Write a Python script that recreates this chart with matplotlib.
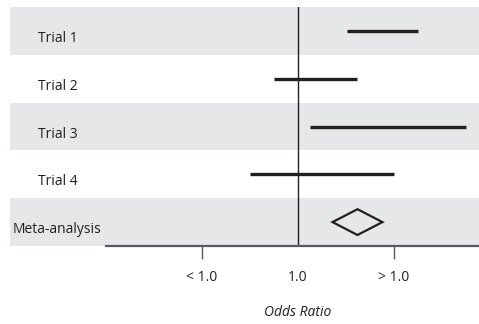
import matplotlib
matplotlib.use("Agg")
import matplotlib.pyplot as plt
import matplotlib.transforms as mtransforms

plt.rcParams['font.family'] = ['Open Sans', 'DejaVu Sans']

# Data
studies = ["Trial 1", "Trial 2", "Trial 3", "Trial 4"]
ci_low = [1.255, 0.875, 1.065, 0.75]
ci_high = [1.625, 1.31, 1.875, 1.50]
meta_label = "Meta-analysis"
meta_low, meta_est, meta_high = 1.18, 1.31, 1.44
tick_values = [0.5, 1.0, 1.5]
tick_labels = ["< 1.0", "1.0", "> 1.0"]
null_value = 1.0
xlabel = "Odds Ratio"

W, H = 479, 324
fig = plt.figure(figsize=(W / 100, H / 100), dpi=100)
ax = fig.add_axes([10 / W, 78 / H, 469 / W, 239 / H])

xmin, xmax = -0.5, 1.943
ax.set_xlim(xmin, xmax)
n_rows = len(studies) + 1
ax.set_ylim(n_rows, 0)

band = "#e6e7e8"
for i in range(n_rows):
    if i % 2 == 0:
        ax.axhspan(i, i + 1, color=band, zorder=0, lw=0)

# CI lines
for i, (lo, hi) in enumerate(zip(ci_low, ci_high)):
    ax.plot([lo, hi], [i + 0.5, i + 0.5], color="#231f20", lw=2.4,
            solid_capstyle="butt", zorder=3)

# Diamond
yc = len(studies) + 0.5
dh = 0.27
ax.fill([meta_low, meta_est, meta_high, meta_est, meta_low],
        [yc, yc - dh, yc, yc + dh, yc], facecolor="none",
        edgecolor="#231f20", lw=1.6, zorder=3, joinstyle="miter")

# Null line
ax.axvline(null_value, color="#231f20", lw=1.0, zorder=2)

# Row labels
fs = 10
for i, s in enumerate(studies):
    ax.text(-0.354, i + 0.5 + 0.16, s, ha="left", va="center", fontsize=fs,
            color="#231f20")
ax.text(-0.484, yc + 0.16, meta_label, ha="left", va="center", fontsize=fs,
        color="#231f20")

# Axis styling
for s in ["left", "top", "right"]:
    ax.spines[s].set_visible(False)
ax.spines["bottom"].set_bounds(0.0, xmax)
ax.spines["bottom"].set_color("#58595b")
ax.spines["bottom"].set_linewidth(1.6)
ax.set_yticks([])
ax.set_xticks(tick_values)
ax.set_xticklabels(tick_labels, fontsize=fs, color="#231f20")
ax.tick_params(axis="x", length=9, width=1.0, color="#58595b", pad=8)
ax.xaxis.get_major_ticks()[1].tick1line.set_visible(False)

trans = mtransforms.blended_transform_factory(ax.transData, ax.transAxes)
ax.text(null_value, -0.28, xlabel, transform=trans, ha="center", va="center",
        fontsize=fs, style="italic", color="#231f20")

fig.savefig("out.png", dpi=100)
